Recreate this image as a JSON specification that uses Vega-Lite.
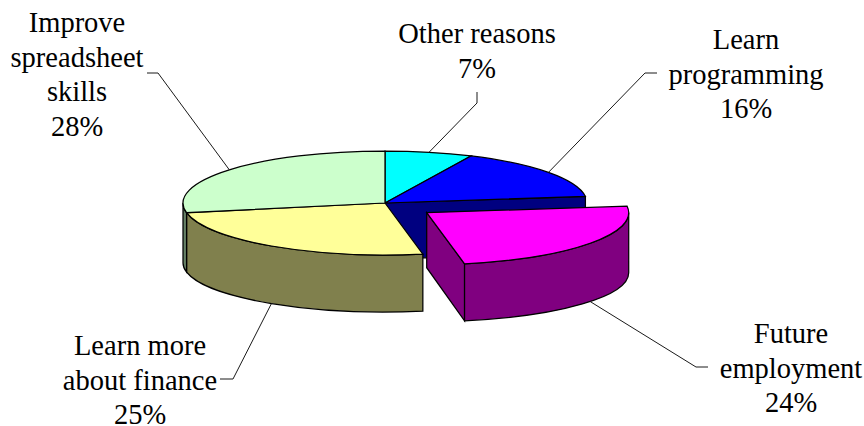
{
  "$schema": "https://vega.github.io/schema/vega-lite/v6.json",
  "width": 864,
  "height": 426,
  "padding": 0,
  "autosize": {"type": "none"},
  "background": "white",
  "view": {"stroke": null},
  "data": {
    "values": [
      {"reason": "Other reasons", "label": "Other reasons", "share": 7},
      {"reason": "Learn programming", "label": "Learn\nprogramming", "share": 16},
      {"reason": "Future employment", "label": "Future\nemployment", "share": 24},
      {"reason": "Learn more about finance", "label": "Learn more\nabout finance", "share": 25},
      {"reason": "Improve spreadsheet skills", "label": "Improve\nspreadsheet\nskills", "share": 28}
    ]
  },
  "transform": [
    {"stack": "share", "groupby": [], "as": ["s0", "s1"]},
    {"calculate": "datum.s0 * PI / 50", "as": "a0"},
    {"calculate": "datum.s1 * PI / 50", "as": "a1"},
    {"calculate": "datum.reason === 'Future employment' ? -5.3 : -47", "as": "cx"},
    {"calculate": "datum.reason === 'Future employment' ? -0.3 : -10", "as": "cy"},
    {"calculate": "datum.label + '\\n' + datum.share + '%'", "as": "text"}
  ],
  "layer": [
    {
      "transform": [
        {"filter": "datum.reason === 'Learn programming' || datum.reason === 'Future employment'"},
        {"calculate": "'M' + datum.cx + ',' + datum.cy + 'L' + (datum.cx + 202 * sin(datum.a1)) + ',' + (datum.cy - 52 * cos(datum.a1)) + 'L' + (datum.cx + 202 * sin(datum.a1)) + ',' + (datum.cy + 60 - 49 * cos(datum.a1)) + 'L' + datum.cx + ',' + (datum.cy + 55) + 'Z'", "as": "face"}
      ],
      "mark": {"type": "point", "filled": true, "size": 4, "opacity": 1, "stroke": "black", "strokeWidth": 1.25},
      "encoding": {
        "shape": {"field": "face", "type": "nominal", "scale": null},
        "fill": {"field": "reason", "type": "nominal", "legend": null, "scale": {"domain": ["Learn programming", "Future employment"], "range": ["#000080", "#800080"]}}
      }
    },
    {
      "transform": [
        {"filter": "datum.s1 > 25"},
        {"calculate": "max(datum.a0, PI / 2)", "as": "b0"},
        {"calculate": "min(datum.a1, 3 * PI / 2)", "as": "b1"},
        {"calculate": "'M' + (datum.cx + 202 * sin(datum.b0)) + ',' + (datum.cy - 52 * cos(datum.b0)) + 'A202,52 0 0 1 ' + (datum.cx + 202 * sin(datum.b1)) + ',' + (datum.cy - 52 * cos(datum.b1)) + 'L' + (datum.cx + 202 * sin(datum.b1)) + ',' + (datum.cy + 60 - 49 * cos(datum.b1)) + 'A202,49 0 0 0 ' + (datum.cx + 202 * sin(datum.b0)) + ',' + (datum.cy + 60 - 49 * cos(datum.b0)) + 'Z'", "as": "face"}
      ],
      "mark": {"type": "point", "filled": true, "size": 4, "opacity": 1, "stroke": "black", "strokeWidth": 1.25},
      "encoding": {
        "shape": {"field": "face", "type": "nominal", "scale": null},
        "fill": {"field": "reason", "type": "nominal", "legend": null, "scale": {"domain": ["Future employment", "Learn more about finance", "Improve spreadsheet skills"], "range": ["#800080", "#80804D", "#668066"]}}
      }
    },
    {
      "transform": [
        {"calculate": "'M' + datum.cx + ',' + datum.cy + 'L' + (datum.cx + 202 * sin(datum.a0)) + ',' + (datum.cy - 52 * cos(datum.a0)) + 'A202,52 0 0 1 ' + (datum.cx + 202 * sin(datum.a1)) + ',' + (datum.cy - 52 * cos(datum.a1)) + 'Z'", "as": "face"}
      ],
      "mark": {"type": "point", "filled": true, "size": 4, "opacity": 1, "stroke": "black", "strokeWidth": 1.25},
      "encoding": {
        "shape": {"field": "face", "type": "nominal", "scale": null},
        "fill": {"field": "reason", "type": "nominal", "legend": null, "scale": {"domain": ["Other reasons", "Learn programming", "Future employment", "Learn more about finance", "Improve spreadsheet skills"], "range": ["#00FFFF", "#0000FF", "#FF00FF", "#FFFF99", "#CCFFCC"]}}
      }
    },
    {
      "transform": [
        {"calculate": "(datum.a0 + datum.a1) / 2", "as": "mid"},
        {"calculate": "datum.cx + 202 * sin(datum.mid)", "as": "sx"},
        {"calculate": "cos(datum.mid) > 0 ? datum.cy - 52 * cos(datum.mid) : datum.cy + 60 - 49 * cos(datum.mid)", "as": "sy"},
        {"calculate": "{'Other reasons': 'L45,-110L45,-121', 'Learn programming': 'L213,-140L225,-140', 'Future employment': 'L264,154L276,154', 'Learn more about finance': 'L-199,166L-212,166', 'Improve spreadsheet skills': 'L-274,-140L-285,-140'}[datum.reason]", "as": "tail"},
        {"calculate": "'M' + datum.sx + ',' + datum.sy + datum.tail", "as": "leader"}
      ],
      "mark": {"type": "point", "filled": false, "size": 4, "opacity": 1, "fill": null, "stroke": "#1a1a1a", "strokeWidth": 1},
      "encoding": {
        "shape": {"field": "leader", "type": "nominal", "scale": null}
      }
    },
    {
      "transform": [{"filter": "datum.reason === 'Other reasons'"}],
      "mark": {"type": "text", "font": "Liberation Serif", "fontSize": 28.5, "lineHeight": 34.5, "lineBreak": "\n", "align": "center", "baseline": "alphabetic", "color": "black", "dx": 45, "dy": -170},
      "encoding": {"text": {"field": "text"}}
    },
    {
      "transform": [{"filter": "datum.reason === 'Learn programming'"}],
      "mark": {"type": "text", "font": "Liberation Serif", "fontSize": 28.5, "lineHeight": 34.5, "lineBreak": "\n", "align": "center", "baseline": "alphabetic", "color": "black", "dx": 314, "dy": -164},
      "encoding": {"text": {"field": "text"}}
    },
    {
      "transform": [{"filter": "datum.reason === 'Future employment'"}],
      "mark": {"type": "text", "font": "Liberation Serif", "fontSize": 28.5, "lineHeight": 34.5, "lineBreak": "\n", "align": "center", "baseline": "alphabetic", "color": "black", "dx": 359, "dy": 130},
      "encoding": {"text": {"field": "text"}}
    },
    {
      "transform": [{"filter": "datum.reason === 'Learn more about finance'"}],
      "mark": {"type": "text", "font": "Liberation Serif", "fontSize": 28.5, "lineHeight": 34.5, "lineBreak": "\n", "align": "center", "baseline": "alphabetic", "color": "black", "dx": -292, "dy": 142},
      "encoding": {"text": {"field": "text"}}
    },
    {
      "transform": [{"filter": "datum.reason === 'Improve spreadsheet skills'"}],
      "mark": {"type": "text", "font": "Liberation Serif", "fontSize": 28.5, "lineHeight": 34.5, "lineBreak": "\n", "align": "center", "baseline": "alphabetic", "color": "black", "dx": -355, "dy": -181},
      "encoding": {"text": {"field": "text"}}
    }
  ],
  "resolve": {"scale": {"fill": "independent", "shape": "independent"}}
}
